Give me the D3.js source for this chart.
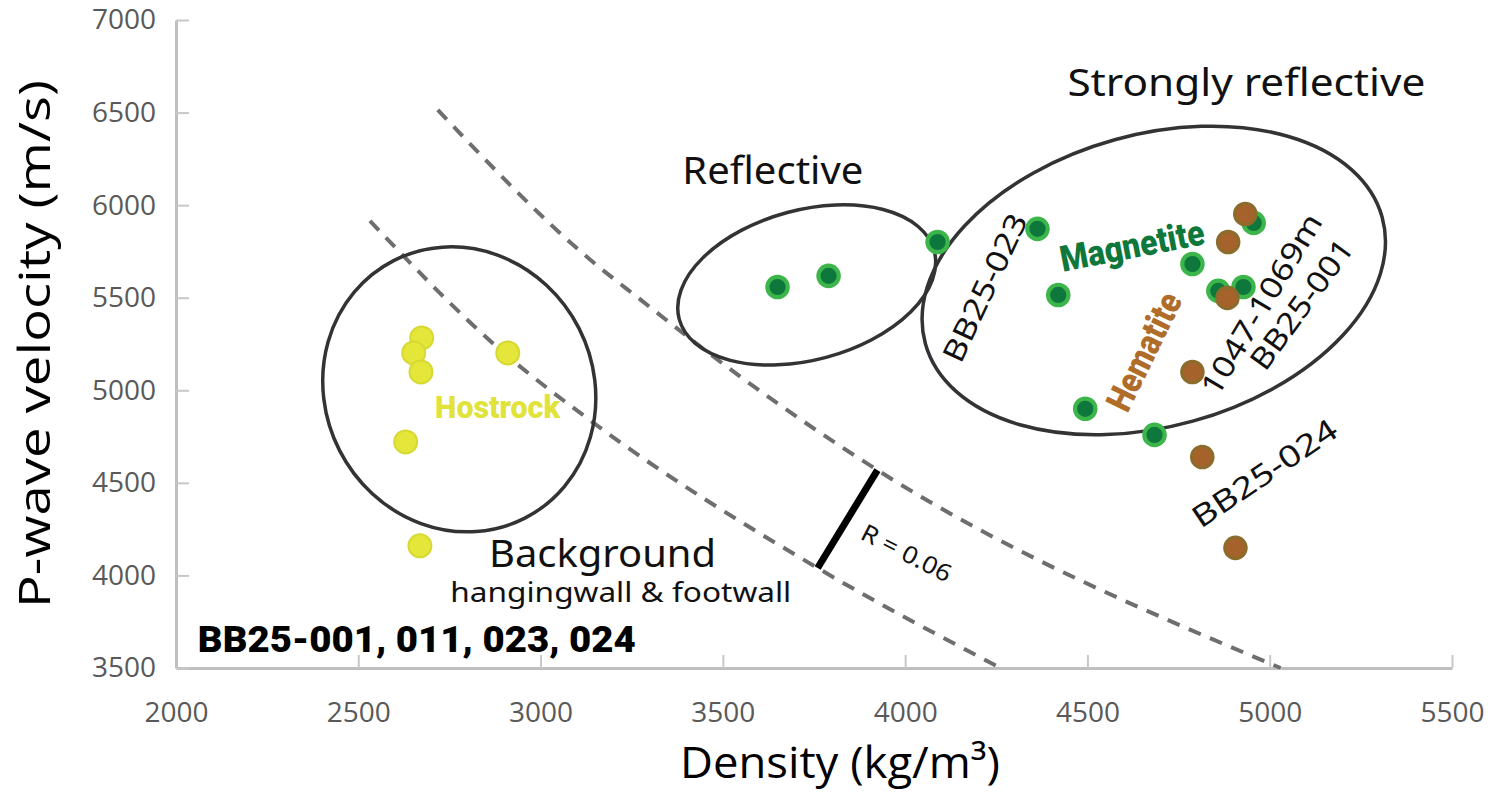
<!DOCTYPE html>
<html lang="en">
<head>
<meta charset="UTF-8">
<title>P-wave velocity vs density</title>
<script src="https://d3js.org/d3.v7.min.js"></script>
<style>
  body { margin: 0; background: #fff; }
  svg { display: block; }
  .hand { font-family: "Noto Sans", "Open Sans", sans-serif; fill: #111; }
  .cond { font-family: "Roboto", "Liberation Sans", sans-serif; font-weight: 900; }
</style>
</head>
<body>
<svg id="chart" width="1500" height="800"></svg>
<script>
// samples: [density kg/m3, Vp m/s]
var hostrock = [[2674, 5283], [2652, 5202], [2672, 5099], [2910, 5202], [2630, 4721], [2669, 4160]];
var magnetite = [[3650, 5558], [3790, 5618], [4089, 5801], [4363, 5872], [4420, 5515], [4494, 4900],
  [4684, 4759], [4788, 5682], [4859, 5537], [4928, 5558], [4956, 5904]];
var hematite = [[4933, 5952], [4886, 5801], [4884, 5499], [4788, 5099], [4815, 4640], [4906, 4149]];

// dashed impedance lines
var lowerCurve = [[2532, 5915], [2891, 5216], [3146, 4823], [3760, 4040], [4262, 3500]];
var upperCurve = [[2718, 6514], [3137, 5704], [3275, 5488], [3549, 5072], [3924, 4569], [5030, 3500]];

// reflection coefficient bar between the two curves
var rBar = [[3760, 4040], [3924, 4569]];

var xTicks = [2000, 2500, 3000, 3500, 4000, 4500, 5000, 5500];
var yTicks = [3500, 4000, 4500, 5000, 5500, 6000, 6500, 7000];

var svg = d3.select("#chart");
// note: "top" is taken by window.top, so plot edges get a prefix
var plotLeft = 176, plotRight = 1452, plotTop = 20, plotBottom = 668;

var x = d3.scaleLinear().domain([2000, 5500]).range([plotLeft, plotRight]);
var y = d3.scaleLinear().domain([3500, 7000]).range([plotBottom, plotTop]);

// axes
var xAxis = svg.append("g")
  .attr("transform", "translate(0," + plotBottom + ")")
  .call(d3.axisBottom(x).tickValues(xTicks).tickFormat(d3.format("d"))
    .tickSizeInner(-13).tickSizeOuter(0).tickPadding(34));
var yAxis = svg.append("g")
  .attr("transform", "translate(" + plotLeft + ",0)")
  .call(d3.axisLeft(y).tickValues(yTicks).tickFormat(d3.format("d"))
    .tickSizeInner(-13).tickSizeOuter(0).tickPadding(20));

[xAxis, yAxis].forEach(function (a) {
  a.select(".domain").attr("stroke", "#bfbfbf").attr("stroke-width", 3);
  a.selectAll(".tick line").attr("stroke", "#c8c8c8").attr("stroke-width", 2);
  a.selectAll(".tick text")
    .attr("fill", "#595959")
    .style("font-family", "'Open Sans', 'Noto Sans', sans-serif")
    .style("font-size", "28px");
});
xAxis.selectAll(".tick").filter(function (d) { return d === 2000; }).select("line").remove();

// axis titles
svg.append("text")
  .attr("transform", "translate(50," + (plotTop + plotBottom) / 2 + ")rotate(-90)")
  .attr("text-anchor", "middle")
  .attr("textLength", 528)
  .attr("lengthAdjust", "spacingAndGlyphs")
  .style("font-family", "'Open Sans', 'Noto Sans', sans-serif")
  .style("font-size", "43px")
  .style("fill", "#000")
  .text("P-wave velocity (m/s)");

svg.append("text")
  .attr("x", 840)
  .attr("y", 778)
  .attr("text-anchor", "middle")
  .attr("textLength", 320)
  .attr("lengthAdjust", "spacingAndGlyphs")
  .style("font-family", "'Open Sans', 'Noto Sans', sans-serif")
  .style("font-size", "43px")
  .style("fill", "#000")
  .text("Density (kg/m\u00B3)");

// dashed curves
var line = d3.line()
  .x(function (d) { return x(d[0]); })
  .y(function (d) { return y(d[1]); })
  .curve(d3.curveMonotoneX);

[lowerCurve, upperCurve].forEach(function (c) {
  svg.append("path")
    .attr("d", line(c))
    .attr("fill", "none")
    .attr("stroke", "#6e6e6e")
    .attr("stroke-width", 4)
    .attr("stroke-dasharray", "13,10");
});

svg.append("line")
  .attr("x1", x(rBar[0][0])).attr("y1", y(rBar[0][1]))
  .attr("x2", x(rBar[1][0])).attr("y2", y(rBar[1][1]))
  .attr("stroke", "#000")
  .attr("stroke-width", 7);

// group ellipses: centre in data units, radii in px, rotation in degrees
var groups = [
  { cx: 2777, cy: 5005, a: 144.5, b: 134.4, rot: 63 },
  { cx: 3730, cy: 5569, a: 132, b: 75, rot: -15 },
  { cx: 4682, cy: 5593, a: 237, b: 146, rot: -15.5 }
];
svg.append("g").selectAll("ellipse")
  .data(groups)
  .enter()
  .append("ellipse")
  .attr("transform", function (d) { return "translate(" + x(d.cx) + "," + y(d.cy) + ")rotate(" + d.rot + ")"; })
  .attr("rx", function (d) { return d.a; })
  .attr("ry", function (d) { return d.b; })
  .attr("fill", "none")
  .attr("stroke", "#333")
  .attr("stroke-width", 3.5);

// points
svg.append("g").selectAll("circle")
  .data(hostrock)
  .enter()
  .append("circle")
  .attr("cx", function (d) { return x(d[0]); })
  .attr("cy", function (d) { return y(d[1]); })
  .attr("r", 11.5)
  .attr("fill", "#e4e63a")
  .attr("stroke", "#d6d934")
  .attr("stroke-width", 2);

svg.append("g").selectAll("circle")
  .data(magnetite)
  .enter()
  .append("circle")
  .attr("cx", function (d) { return x(d[0]); })
  .attr("cy", function (d) { return y(d[1]); })
  .attr("r", 10.2)
  .attr("fill", "#0e773b")
  .attr("stroke", "#3cb64b")
  .attr("stroke-width", 4.2);

svg.append("g").selectAll("circle")
  .data(hematite)
  .enter()
  .append("circle")
  .attr("cx", function (d) { return x(d[0]); })
  .attr("cy", function (d) { return y(d[1]); })
  .attr("r", 10.8)
  .attr("fill", "#a6622b")
  .attr("stroke", "#8c6c2c")
  .attr("stroke-width", 3);

// labels, anchored in data units
var labels = [
  { t: "Strongly reflective", x: 4936, y: 6590, size: 38, len: 358, rot: 0, cls: "hand", fill: "#111" },
  { t: "Reflective", x: 3637, y: 6114, size: 38, len: 181, rot: 0, cls: "hand", fill: "#111" },
  { t: "Background", x: 3170, y: 4045, size: 38, len: 227, rot: 0, cls: "hand", fill: "#111" },
  { t: "hangingwall & footwall", x: 3220, y: 3856, size: 27, len: 341, rot: 0, cls: "hand", fill: "#111" },
  { t: "BB25-023", x: 4245, y: 5530, size: 30, len: 160, rot: -65, cls: "hand", fill: "#111" },
  { t: "1047-1069m", x: 5002, y: 5435, size: 30, len: 206, rot: -59, cls: "hand", fill: "#111" },
  { t: "BB25-001", x: 5111, y: 5430, size: 30, len: 153, rot: -54, cls: "hand", fill: "#111" },
  { t: "BB25-024", x: 5002, y: 4505, size: 30, len: 168, rot: -34, cls: "hand", fill: "#111" },
  { t: "R = 0.06", x: 3993, y: 4080, size: 24, len: 98, rot: 27, cls: "hand", fill: "#111" },
  { t: "Magnetite", x: 4629, y: 5715, size: 36, len: 146, rot: -11, cls: "cond", fill: "#0e773b" },
  { t: "Hematite", x: 4686, y: 5180, size: 36, len: 127, rot: -64, cls: "cond", fill: "#b06d2a" },
  { t: "Hostrock", x: 2882, y: 4850, size: 32, len: 125, rot: 0, cls: "cond", fill: "#e1e33a" }
];

svg.append("g").selectAll("text")
  .data(labels)
  .enter()
  .append("text")
  .attr("class", function (d) { return d.cls; })
  .attr("transform", function (d) { return "translate(" + x(d.x) + "," + y(d.y) + ")rotate(" + d.rot + ")"; })
  .attr("text-anchor", "middle")
  .attr("textLength", function (d) { return d.len; })
  .attr("lengthAdjust", "spacingAndGlyphs")
  .style("font-size", function (d) { return d.size + "px"; })
  .style("fill", function (d) { return d.fill; })
  .text(function (d) { return d.t; });

svg.append("text")
  .attr("x", x(2060))
  .attr("y", y(3586))
  .attr("textLength", 438)
  .attr("lengthAdjust", "spacingAndGlyphs")
  .style("font-family", "Roboto, 'DejaVu Sans', sans-serif")
  .style("font-weight", 900)
  .style("font-size", "37px")
  .style("fill", "#000")
  .text("BB25-001, 011, 023, 024");
</script>
</body>
</html>
